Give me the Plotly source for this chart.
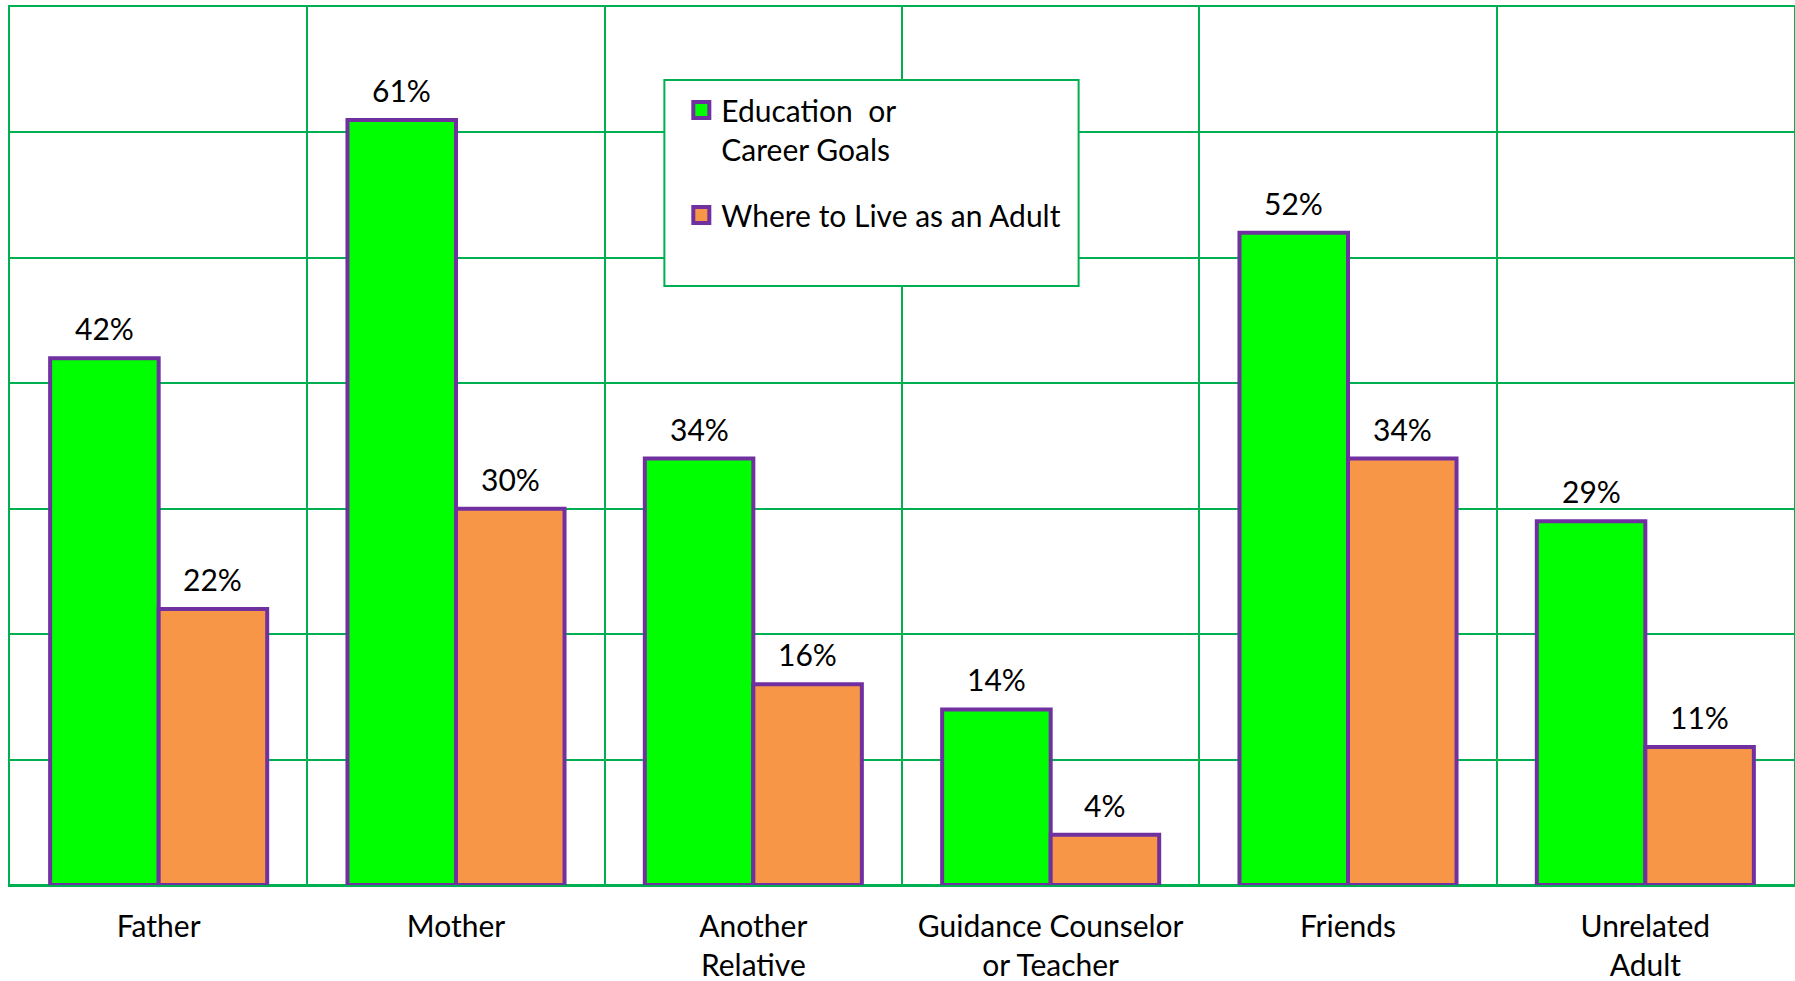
import plotly.graph_objects as go

# Survey: who youths talk with about future plans (% of respondents)
categories = ["Father", "Mother", "Another<br>Relative", "Guidance Counselor<br>or Teacher",
              "Friends", "Unrelated<br>Adult"]
education_goals = [42, 61, 34, 14, 52, 29]
where_to_live = [22, 30, 16, 4, 34, 11]
series_names = ["Education  or<br>Career Goals", "Where to Live as an Adult"]

GRID = "#00B050"
OUTLINE = "#7030A0"
GREEN = "#00FF00"
ORANGE = "#F79646"
FONT = "Lato, 'Open Sans', sans-serif"
FS = 30
BARGAP = 0.27

fig = go.Figure()

for vals, color in ((education_goals, GREEN), (where_to_live, ORANGE)):
    fig.add_trace(go.Bar(
        x=categories, y=vals,
        marker=dict(color=color, line=dict(color=OUTLINE, width=4)),
        showlegend=False, hoverinfo="skip",
    ))

# legend entries with larger square swatches
for name, color, grp in ((series_names[0], GREEN, "a"), (series_names[1], ORANGE, "b")):
    fig.add_trace(go.Scatter(
        x=[None], y=[None], mode="markers", name=name, legendgroup=grp,
        marker=dict(symbol="square", size=16, color=color,
                    line=dict(color=OUTLINE, width=4)),
    ))

# value labels above each bar
half = (1 - BARGAP) / 2
for offset, vals in ((-half / 2, education_goals), (half / 2, where_to_live)):
    for i, v in enumerate(vals):
        fig.add_annotation(
            x=i + offset, y=v, xref="x", yref="y", text=f"{v}%",
            showarrow=False, yanchor="middle", yshift=30,
            font=dict(family=FONT, size=FS, color="black"),
        )

# legend frame
fig.add_shape(type="rect", xref="paper", yref="paper",
              x0=0.3668, x1=0.5990, y0=0.6822, y1=0.9169,
              line=dict(color=GRID, width=2), fillcolor="white", layer="above")

fig.update_layout(
    width=1795, height=981,
    margin=dict(l=10, r=1, t=7, b=96),
    paper_bgcolor="white", plot_bgcolor="white",
    barmode="group", bargap=BARGAP, bargroupgap=0,
    font=dict(family=FONT, size=FS, color="black"),
    legend=dict(
        x=0.3763, y=0.9123, xanchor="left", yanchor="top",
        bgcolor="rgba(0,0,0,0)", borderwidth=0,
        valign="top", tracegroupgap=24,
        font=dict(family=FONT, size=FS, color="black"),
    ),
    xaxis=dict(
        tickson="boundaries", showgrid=True, gridcolor=GRID, gridwidth=2,
        ticks="", ticklabelstandoff=14, automargin=False,
        showline=True, mirror=True, linecolor=GRID, linewidth=2,
        tickfont=dict(family=FONT, size=FS, color="black"),
    ),
    yaxis=dict(
        range=[0, 70], dtick=10, showticklabels=False, automargin=False,
        showgrid=True, gridcolor=GRID, gridwidth=2,
        zeroline=True, zerolinecolor=GRID, zerolinewidth=2,
        showline=True, mirror=True, linecolor=GRID, linewidth=2,
    ),
)

fig.write_html("out.html")
